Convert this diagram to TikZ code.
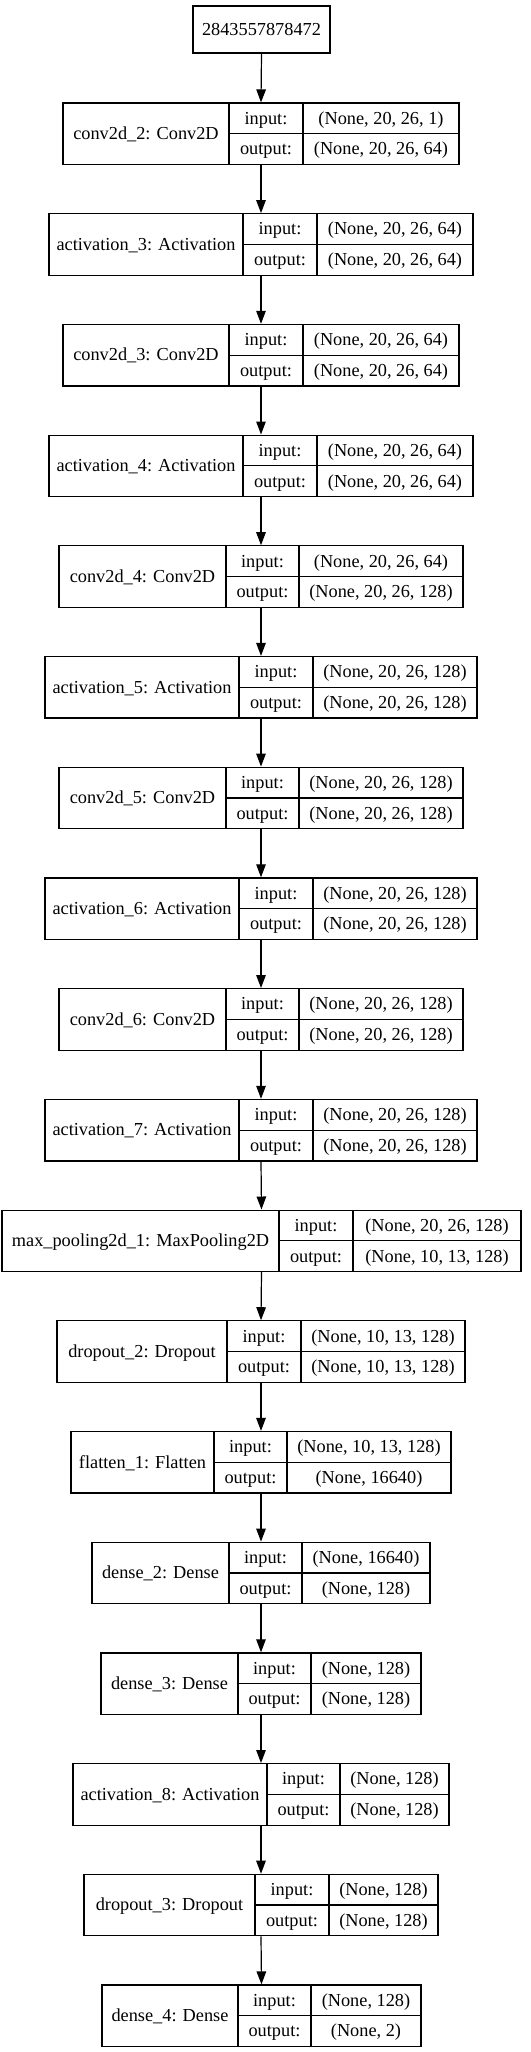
\documentclass[tikz,border=0pt]{standalone}
\usepackage{fontspec}
\setmainfont{Liberation Serif}
\usetikzlibrary{arrows.meta}
\tikzset{
  box/.style={draw=black, line width=1.2bp, inner sep=0pt, fill=white},
  cell/.style={draw=black, line width=1.2bp},
  txt/.style={inner sep=0pt, text height=14.6bp, text depth=3bp, font=\fontsize{18.3bp}{22bp}\selectfont},
  arr/.style={draw=black, line width=1.2bp, -{Triangle[length=13bp,width=9.5bp]}}
}
% #1 name, #2 top y, #3 x0, #4 x1, #5 x2, #6 x3, #7 layer text, #8 input, #9 output
\newcommand\mylayer[9]{%
  \node[box, minimum width={(#6-#3)*1bp}, minimum height=61.5bp] (#1) at ({(#3+#6)/2}, {#2+30.75}) {};
  \draw[cell] (#4,#2) -- (#4,#2+61.5);
  \draw[cell] (#5,#2) -- (#5,#2+61.5);
  \draw[cell] (#4,#2+30.75) -- (#6,#2+30.75);
  \node[txt] (#1n) at ({(#3+#4)/2}, {#2+30.75}) {#7};
  \node[txt] (#1i) at ({(#4+#5)/2}, {#2+15.4}) {input:};
  \node[txt] (#1o) at ({(#4+#5)/2}, {#2+46.1}) {output:};
  \node[txt] (#1iv) at ({(#5+#6)/2}, {#2+15.4}) {#8};
  \node[txt] (#1ov) at ({(#5+#6)/2}, {#2+46.1}) {#9};
}
\begin{document}
\begin{tikzpicture}[x=1bp, y=-1bp]
\useasboundingbox (0,0) rectangle (531,2052);
\node[box, minimum width=137bp, minimum height=47bp] (T) at (261.5,29.5) {};
\node[txt] (Tt) at (261.5,29.5) {2843557878472};
\mylayer{L1}{103.0}{63}{229}{303}{459}{conv2d\_2: Conv2D}{(None, 20, 26, 1)}{(None, 20, 26, 64)}
\mylayer{L2}{213.7}{49}{243}{317}{473}{activation\_3: Activation}{(None, 20, 26, 64)}{(None, 20, 26, 64)}
\mylayer{L3}{324.4}{63}{229}{303}{459}{conv2d\_3: Conv2D}{(None, 20, 26, 64)}{(None, 20, 26, 64)}
\mylayer{L4}{435.1}{49}{243}{317}{473}{activation\_4: Activation}{(None, 20, 26, 64)}{(None, 20, 26, 64)}
\mylayer{L5}{545.8}{59}{226}{299}{463}{conv2d\_4: Conv2D}{(None, 20, 26, 64)}{(None, 20, 26, 128)}
\mylayer{L6}{656.5}{45}{239}{313}{477}{activation\_5: Activation}{(None, 20, 26, 128)}{(None, 20, 26, 128)}
\mylayer{L7}{767.2}{59}{226}{299}{463}{conv2d\_5: Conv2D}{(None, 20, 26, 128)}{(None, 20, 26, 128)}
\mylayer{L8}{877.9}{45}{239}{313}{477}{activation\_6: Activation}{(None, 20, 26, 128)}{(None, 20, 26, 128)}
\mylayer{L9}{988.6}{59}{226}{299}{463}{conv2d\_6: Conv2D}{(None, 20, 26, 128)}{(None, 20, 26, 128)}
\mylayer{L10}{1099.4}{45}{239}{313}{477}{activation\_7: Activation}{(None, 20, 26, 128)}{(None, 20, 26, 128)}
\mylayer{L11}{1210.1}{2}{279}{353}{521}{max\_pooling2d\_1: MaxPooling2D}{(None, 20, 26, 128)}{(None, 10, 13, 128)}
\mylayer{L12}{1320.8}{57}{227}{301}{465}{dropout\_2: Dropout}{(None, 10, 13, 128)}{(None, 10, 13, 128)}
\mylayer{L13}{1431.5}{71}{214}{287}{451}{flatten\_1: Flatten}{(None, 10, 13, 128)}{(None, 16640)}
\mylayer{L14}{1542.2}{92}{229}{302}{430}{dense\_2: Dense}{(None, 16640)}{(None, 128)}
\mylayer{L15}{1652.9}{101}{238}{311}{421}{dense\_3: Dense}{(None, 128)}{(None, 128)}
\mylayer{L16}{1763.6}{73}{267}{340}{449}{activation\_8: Activation}{(None, 128)}{(None, 128)}
\mylayer{L17}{1874.3}{84}{255}{329}{438}{dropout\_3: Dropout}{(None, 128)}{(None, 128)}
\mylayer{L18}{1985.0}{102}{238}{311}{421}{dense\_4: Dense}{(None, 128)}{(None, 2)}
\draw[arr] (T.south) -- (L1.north);
\foreach \a/\b in {L1/L2,L2/L3,L3/L4,L4/L5,L5/L6,L6/L7,L7/L8,L8/L9,L9/L10,L10/L11,L11/L12,L12/L13,L13/L14,L14/L15,L15/L16,L16/L17,L17/L18}
  \draw[arr] (\a.south) -- (\b.north);
\end{tikzpicture}
\end{document}
